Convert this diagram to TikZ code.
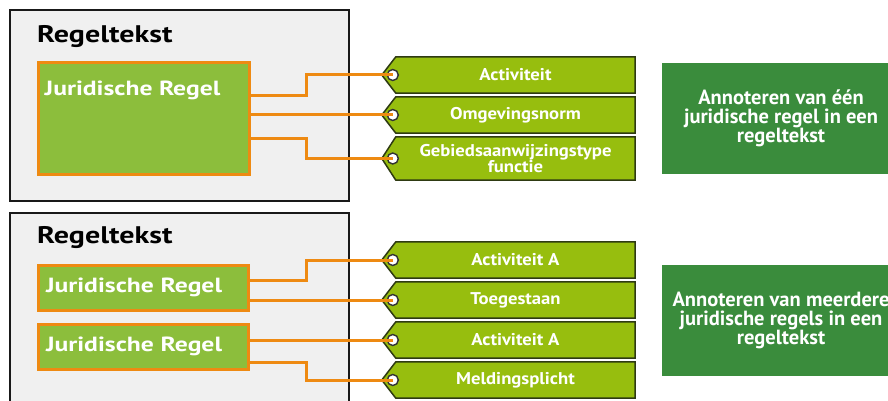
\documentclass[tikz,border=0pt]{standalone}
\usepackage{fontspec}
\setmainfont{PT Sans}
\newfontfamily\widesans{PT Sans}[FakeStretch=1.25]
\newfontfamily\tagsans{PT Sans}[FakeStretch=1.1]
\usepackage{tikz}
\pgfdeclarelayer{boxlayer}
\pgfdeclarelayer{taglayer}
\pgfsetlayers{boxlayer,taglayer,main}
\definecolor{panelgrey}{HTML}{F0F0F0}
\definecolor{rulegreen}{HTML}{8CBE3C}
\definecolor{wireorange}{HTML}{EE8A12}
\definecolor{taggreen}{HTML}{97BE0E}
\definecolor{tagedge}{HTML}{2E3A12}
\definecolor{notegreen}{HTML}{3A8C3C}
\tikzstyle{none}=[inner sep=0pt]
\tikzstyle{panel}=[draw=black!90, line width=2pt, fill=panelgrey]
\tikzstyle{title}=[none, anchor=north west, font=\widesans\fontsize{24}{26}\selectfont\bfseries]
\tikzstyle{rule}=[draw=wireorange, line width=3pt, fill=rulegreen, text=white, font=\widesans\fontsize{20.5}{22}\selectfont\bfseries]
\tikzstyle{rulelabel}=[none, anchor=north west, text=white, font=\widesans\fontsize{20.5}{22}\selectfont\bfseries]
\tikzstyle{tag}=[none, minimum width=239pt, minimum height=36pt, align=center, text=white, font=\tagsans\fontsize{17}{15}\selectfont\bfseries]
\tikzstyle{tagshape}=[fill=taggreen, draw=tagedge, line width=1.5pt, line join=miter]
\tikzstyle{hole}=[circle, minimum size=11pt, inner sep=0pt, fill=white, draw=black!80, line width=1.4pt]
\tikzstyle{wire}=[draw=wireorange, line width=3pt]
\tikzstyle{note}=[none, fill=notegreen, minimum width=238pt, minimum height=111pt, align=center, text=white, font=\fontsize{20.5}{19}\selectfont\bfseries]

\begin{document}
\begin{tikzpicture}[x=1pt, y=-1pt]
	\useasboundingbox (0,0) rectangle (888,401);
	\clip (0,0) rectangle (888,401);
	\begin{pgfonlayer}{boxlayer}
		\node [panel, minimum width=339pt, minimum height=191pt, label={[title, xshift=28pt, yshift=-16pt]north west:Regeltekst}] (0) at (179.5, 105.5) {};
		\node [panel, minimum width=339pt, minimum height=217pt, label={[title, xshift=28pt, yshift=-14pt]north west:Regeltekst}] (6) at (179.5, 321.5) {};
	\end{pgfonlayer}

	% bovenste regeltekst
	\node [rule, minimum width=211pt, minimum height=111pt, label={[rulelabel, xshift=8pt, yshift=-19pt]north west:Juridische Regel}] (1) at (143.5, 118.5) {};
	\node [tag] (2) at (515.5, 75) {Activiteit};
	\node [tag] (3) at (515.5, 115) {Omgevingsnorm};
	\node [tag, minimum height=43pt] (4) at (515.5, 158.5) {Gebiedsaanwijzingstype\\functie};
	\node [note] (5) at (781, 118.5) {Annoteren van één\\juridische regel in een\\regeltekst};

	% onderste regeltekst
	\node [rule, minimum width=210pt, minimum height=45pt, text width=194pt, align=left] (7) at (143, 287.5) {Juridische Regel};
	\node [rule, minimum width=210pt, minimum height=45pt, text width=194pt, align=left] (8) at (143, 346.5) {Juridische Regel};
	\node [tag] (9) at (515.5, 260) {Activiteit A};
	\node [tag] (10) at (515.5, 300) {Toegestaan};
	\node [tag] (11) at (515.5, 340) {Activiteit A};
	\node [tag] (12) at (515.5, 380) {Meldingsplicht};
	\node [note] (13) at (781, 320.5) {Annoteren van meerdere\\juridische regels in een\\regeltekst};

	\begin{pgfonlayer}{taglayer}
		\foreach \n in {2,3,4,9,10,11,12}
			\filldraw [tagshape] (\n.north east) -- (\n.north west) -- ([xshift=-14pt]\n.west) -- (\n.south west) -- (\n.south east) -- cycle;
	\end{pgfonlayer}

	\foreach \n in {2,3,4,9,10,11,12}
		\node [hole] (h\n) at ([xshift=-3pt]\n.west) {};

	\draw [wire] ([yshift=22.5pt]1.east) -- ++(56,0) |- (h2.center);
	\draw [wire] (1.east |- h3) -- (h3.center);
	\draw [wire] ([yshift=-19.5pt]1.east) -- ++(56,0) |- (h4.center);
	\draw [wire] ([yshift=7.5pt]7.east) -- ++(57,0) |- (h9.center);
	\draw [wire] (7.east |- h10) -- (h10.center);
	\draw [wire] (8.east |- h11) -- (h11.center);
	\draw [wire] ([yshift=-15.5pt]8.east) -- ++(57,0) |- (h12.center);
\end{tikzpicture}
\end{document}
